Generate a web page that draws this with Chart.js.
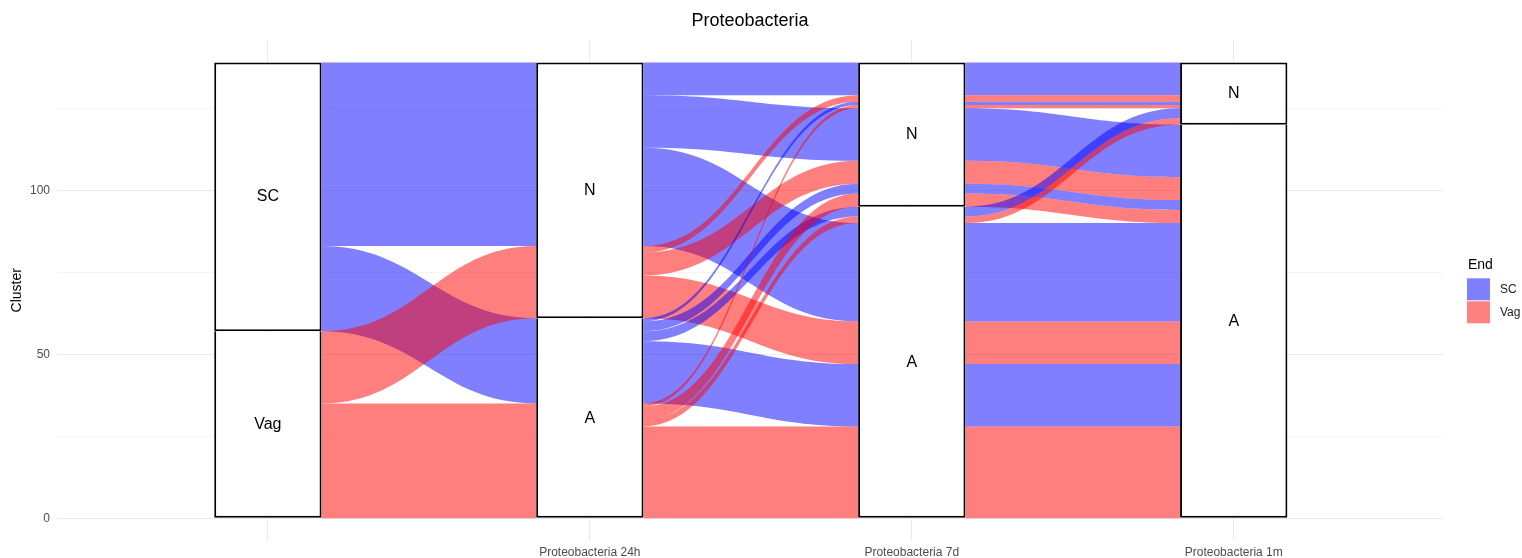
<!DOCTYPE html>
<html>
<head>
<meta charset="utf-8">
<script src="https://cdn.jsdelivr.net/npm/chart.js@4.4.0/dist/chart.umd.min.js"></script>
<style>
  html, body { margin: 0; padding: 0; background: #fff; }
</style>
</head>
<body>
<canvas id="alluvial" width="1522" height="558"></canvas>
<script>
// stages (axes) of the alluvial plot
var axisLabels = ['', 'Proteobacteria 24h', 'Proteobacteria 7d', 'Proteobacteria 1m'];
// strata of every axis, top to bottom
var strata = [['SC', 'Vag'], ['N', 'A'], ['N', 'A'], ['N', 'A']];

// one entry per alluvium: cluster at each stage and number of samples
var startGroup = ['SC', 'SC', 'SC', 'SC', 'SC', 'SC', 'SC', 'Vag', 'Vag', 'Vag', 'Vag', 'Vag', 'Vag', 'Vag'];
var at24h      = ['N',  'N',  'N',  'A',  'A',  'A',  'A',  'N',   'N',   'N',   'A',   'A',   'A',   'A'];
var at7d       = ['N',  'N',  'A',  'N',  'N',  'A',  'A',  'N',   'N',   'A',   'N',   'N',   'A',   'A'];
var at1m       = ['N',  'A',  'A',  'N',  'A',  'N',  'A',  'N',   'A',   'A',   'N',   'A',   'N',   'A'];
var counts     = [10,   16,   30,   1,    3,    3,    19,   2,     7,     13,    1,     4,     2,     28];

// which other stages decide the order of lodes inside a stratum
var lodeGuide = [[1, 2, 3], [0, 2, 3], [3, 1, 0], [2, 1, 0]];

var fillColors = { SC: 'rgba(0,0,255,0.5)', Vag: 'rgba(255,0,0,0.5)' };
var legendColors = { SC: '#8080ff', Vag: '#ff8080' };
var boxWidth = 1 / 3;

var paths = startGroup.map(function (s, i) { return [s, at24h[i], at7d[i], at1m[i]]; });
var total = counts.reduce(function (a, b) { return a + b; }, 0);

function rank(i, a) { return strata[a].indexOf(paths[i][a]); }

// lo / hi of every alluvium at every stage
var lodes = axisLabels.map(function (_, a) {
  var idx = paths.map(function (p, i) { return i; });
  var keys = [a].concat(lodeGuide[a]);
  idx.sort(function (i, j) {
    for (var k = 0; k < keys.length; k++) {
      var d = rank(i, keys[k]) - rank(j, keys[k]);
      if (d) return d;
    }
    return i - j;
  });
  var top = total, out = [];
  idx.forEach(function (i) {
    out[i] = { hi: top, lo: top - counts[i] };
    top -= counts[i];
  });
  return out;
});

// ribbons per gap; neighbours of the same colour that stay together are merged
var ribbons = [];
for (var g = 0; g < axisLabels.length - 1; g++) {
  var order = paths.map(function (p, i) { return i; })
    .sort(function (i, j) { return lodes[g][j].hi - lodes[g][i].hi; });
  var cur = null;
  order.forEach(function (i) {
    var L = lodes[g][i], R = lodes[g + 1][i];
    if (cur && cur.fill === paths[i][0] && cur.lo0 === L.hi && cur.lo1 === R.hi) {
      cur.lo0 = L.lo; cur.lo1 = R.lo;
    } else {
      cur = { gap: g, fill: paths[i][0], hi0: L.hi, lo0: L.lo, hi1: R.hi, lo1: R.lo };
      ribbons.push(cur);
    }
  });
}

// strata boxes
var boxes = [];
strata.forEach(function (list, a) {
  var top = total;
  list.forEach(function (name) {
    var n = 0;
    paths.forEach(function (p, i) { if (p[a] === name) n += counts[i]; });
    boxes.push({ x: a + 1, y: [top - n, top], label: name });
    top -= n;
  });
});

var alluvialPlugin = {
  id: 'alluvial',
  beforeDatasetsDraw: function (chart) {
    var ctx = chart.ctx, xs = chart.scales.x, ys = chart.scales.y;
    var hw = xs.getPixelForValue(1 + boxWidth / 2) - xs.getPixelForValue(1);
    ctx.save();
    ribbons.forEach(function (r) {
      var x0 = xs.getPixelForValue(r.gap + 1) + hw;
      var x1 = xs.getPixelForValue(r.gap + 2) - hw;
      var m = (x1 - x0) * 0.45;
      var t0 = ys.getPixelForValue(r.hi0), b0 = ys.getPixelForValue(r.lo0);
      var t1 = ys.getPixelForValue(r.hi1), b1 = ys.getPixelForValue(r.lo1);
      ctx.beginPath();
      ctx.moveTo(x0, t0);
      ctx.bezierCurveTo(x0 + m, t0, x1 - m, t1, x1, t1);
      ctx.lineTo(x1, b1);
      ctx.bezierCurveTo(x1 - m, b1, x0 + m, b0, x0, b0);
      ctx.closePath();
      ctx.fillStyle = fillColors[r.fill];
      ctx.fill();
    });
    ctx.restore();
  },
  afterDatasetsDraw: function (chart) {
    var ctx = chart.ctx, xs = chart.scales.x, ys = chart.scales.y;
    ctx.save();
    ctx.fillStyle = '#000';
    ctx.font = '16px "Liberation Sans", Arial, sans-serif';
    ctx.textAlign = 'center';
    ctx.textBaseline = 'middle';
    boxes.forEach(function (b) {
      ctx.fillText(b.label, xs.getPixelForValue(b.x), ys.getPixelForValue((b.y[0] + b.y[1]) / 2));
    });
    ctx.restore();
  },
  afterDraw: function (chart) {
    var ctx = chart.ctx, ca = chart.chartArea;
    var lx = ca.right + 24, mid = (ca.top + ca.bottom) / 2;
    ctx.save();
    ctx.fillStyle = '#000';
    ctx.textAlign = 'left';
    ctx.textBaseline = 'middle';
    ctx.font = '14px "Liberation Sans", Arial, sans-serif';
    ctx.fillText('End', lx + 1, mid - 25);
    ctx.font = '12px "Liberation Sans", Arial, sans-serif';
    strata[0].forEach(function (name, k) {
      var top = mid - 12 + k * 23;
      ctx.fillStyle = legendColors[name];
      ctx.fillRect(lx, top, 23, 22);
      ctx.fillStyle = '#1a1a1a';
      ctx.fillText(name, lx + 33, top + 11);
    });
    ctx.restore();
  }
};

Chart.defaults.font.family = '"Liberation Sans", Arial, sans-serif';

new Chart(document.getElementById('alluvial'), {
  type: 'bar',
  data: {
    datasets: [{
      data: boxes,
      backgroundColor: '#ffffff',
      borderColor: '#000000',
      borderWidth: function (c) {
        return c.raw && c.raw.y[1] < total ? { top: 0, left: 2, right: 2, bottom: 2 } : 2;
      },
      borderSkipped: false,
      barPercentage: boxWidth,
      categoryPercentage: 1,
      grouped: false
    }]
  },
  options: {
    responsive: false,
    animation: false,
    devicePixelRatio: 1,
    layout: { padding: { left: 0, right: 79, top: 0, bottom: 0 } },
    plugins: {
      legend: { display: false },
      tooltip: { enabled: false },
      title: {
        display: true,
        fullSize: false,
        text: 'Proteobacteria',
        color: '#000',
        font: { size: 18, weight: 'normal' },
        padding: { top: 10, bottom: 8 }
      }
    },
    scales: {
      x: {
        type: 'linear',
        offset: false,
        min: 0.345,
        max: 4.65,
        afterBuildTicks: function (s) { s.ticks = [1, 2, 3, 4].map(function (v) { return { value: v }; }); },
        afterFit: function (s) { s.height = 17; },
        ticks: {
          callback: function (v) { return axisLabels[v - 1]; },
          color: '#4d4d4d',
          font: { size: 12 },
          padding: 4,
          autoSkip: false,
          maxRotation: 0
        },
        grid: { color: '#ebebeb', drawTicks: false, offset: false },
        border: { display: false }
      },
      y: {
        min: -6.95,
        max: 145.95,
        afterBuildTicks: function (s) { s.ticks = [0, 25, 50, 75, 100, 125].map(function (v) { return { value: v }; }); },
        afterFit: function (s) { s.width = 57; },
        ticks: {
          callback: function (v) { return v % 50 === 0 ? v : ''; },
          color: '#4d4d4d',
          font: { size: 12 },
          padding: 7
        },
        grid: {
          color: function (c) { return c.tick && c.tick.value % 50 === 0 ? '#ebebeb' : '#f3f3f3'; },
          drawTicks: false
        },
        border: { display: false },
        title: {
          display: true,
          text: 'Cluster',
          color: '#000',
          font: { size: 14 },
          padding: { top: 9, bottom: 0 }
        }
      }
    }
  },
  plugins: [alluvialPlugin]
});
</script>
</body>
</html>
